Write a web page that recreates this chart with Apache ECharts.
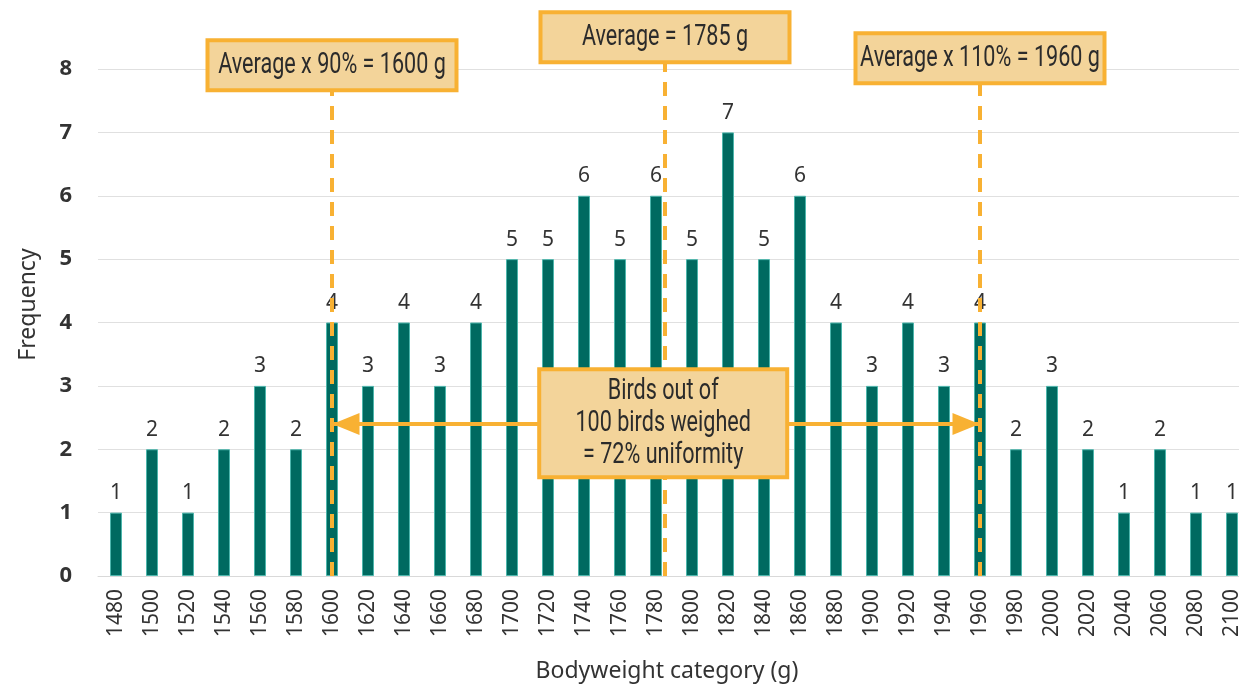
<!DOCTYPE html>
<html><head><meta charset="utf-8">
<script src="https://cdn.jsdelivr.net/npm/echarts@6/dist/echarts.min.js"></script>
<style>html,body{margin:0;padding:0;background:#fff;overflow:hidden}#c{width:1250px;height:688px}</style>
</head><body><div id="c"></div>
<script>
const categories = ['1480','1500','1520','1540','1560','1580','1600','1620','1640','1660','1680','1700','1720','1740','1760','1780','1800','1820','1840','1860','1880','1900','1920','1940','1960','1980','2000','2020','2040','2060','2080','2100'];
const frequency = [1,2,1,2,3,2,4,3,4,3,4,5,5,6,5,6,5,7,5,6,4,3,4,3,4,2,3,2,1,2,1,1];
const yTicks = [0,1,2,3,4,5,6,7,8];
const refWeights = [1600, 1785, 1960];
const refTexts = ['Average x 90% = 1600 g', 'Average = 1785 g', 'Average x 110% = 1960 g'];
const refBoxY = [8.06, 8.5, 8.17];
const uniformityText = 'Birds out of\n100 birds weighed\n= 72% uniformity';
const uniformityPos = [1784, 2.41];
const arrowY = 2.4;

const ORANGE = '#F8B133', FILL = '#F3D49A', TXT = '#2b2b2b';

const chart = echarts.init(document.getElementById('c'));
const lineSeries = refWeights.map((w, i) => ({
  type: 'line', xAxisIndex: 1, yAxisIndex: 0, clip: false, z: 5, symbol: 'none', silent: true,
  data: [[w, 0], [w, refBoxY[i]]],
  lineStyle: { color: ORANGE, width: 4, type: [14, 10] }
}));
chart.setOption({
  animation: false,
  textStyle: { fontFamily: '"Noto Sans", sans-serif' },
  grid: { left: 98, top: 69, right: 0, bottom: 111 },
  xAxis: [{
    type: 'category', data: categories,
    axisLine: { lineStyle: { color: '#d9d9d9' } }, axisTick: { show: false },
    axisLabel: { rotate: 90, fontSize: 21, color: '#333', margin: 13 },
    name: 'Bodyweight category (g)', nameLocation: 'middle', nameGap: 84,
    nameTextStyle: { fontSize: 23, color: '#333', padding: [0, 14, 0, 0] }
  }, {
    type: 'value', min: 1470, max: 2110, show: false
  }],
  yAxis: {
    type: 'value', min: 0, max: 8, interval: 1,
    axisLabel: { fontSize: 22, fontWeight: 'bold', color: '#333', margin: 26 },
    splitLine: { lineStyle: { color: '#e0e0e0' } },
    axisLine: { show: false }, axisTick: { show: false },
    name: 'Frequency', nameLocation: 'middle', nameGap: 58,
    nameTextStyle: { fontSize: 23, color: '#333', padding: [0, 0, 0, 36] }
  },
  series: [{
    type: 'bar', data: frequency, barWidth: 12, z: 2,
    itemStyle: { color: '#006A60', borderColor: '#4DB6AC', borderWidth: 1 },
    label: { show: true, position: 'top', distance: 9, fontSize: 21, color: '#333' }
  }].concat(lineSeries).concat([{
    type: 'line', xAxisIndex: 1, data: [], z: 6, silent: true,
    markLine: {
      silent: true, symbol: ['triangle', 'triangle'], symbolSize: [22, 27],
      symbolOffset: [[0, 14], [0, 14]],
      lineStyle: { color: ORANGE, width: 4, type: 'solid' }, label: { show: false },
      data: [[{ coord: [refWeights[0], arrowY] }, { coord: [refWeights[2], arrowY] }]]
    }
  }])
});

function box(center, w, h, text) {
  return {
    type: 'group', x: center[0], y: center[1], z: 100,
    children: [
      { type: 'rect', z: 100, shape: { x: -w / 2, y: -h / 2, width: w, height: h },
        style: { fill: FILL, stroke: ORANGE, lineWidth: 4 } },
      { type: 'text', z: 101, x: 0, y: 0, scaleX: 0.72,
        style: { text: text, fontFamily: 'Roboto', fontSize: 30, lineHeight: 32, fill: TXT,
                 align: 'center', verticalAlign: 'middle' } }
    ]
  };
}
const graphics = refWeights.map((w, i) =>
  box(chart.convertToPixel({ xAxisIndex: 1, yAxisIndex: 0 }, [w, refBoxY[i]]), 249, 50, refTexts[i]));
graphics.push(box(chart.convertToPixel({ xAxisIndex: 1, yAxisIndex: 0 }, uniformityPos), 248, 108, uniformityText));
chart.setOption({ graphic: graphics });
</script></body></html>
